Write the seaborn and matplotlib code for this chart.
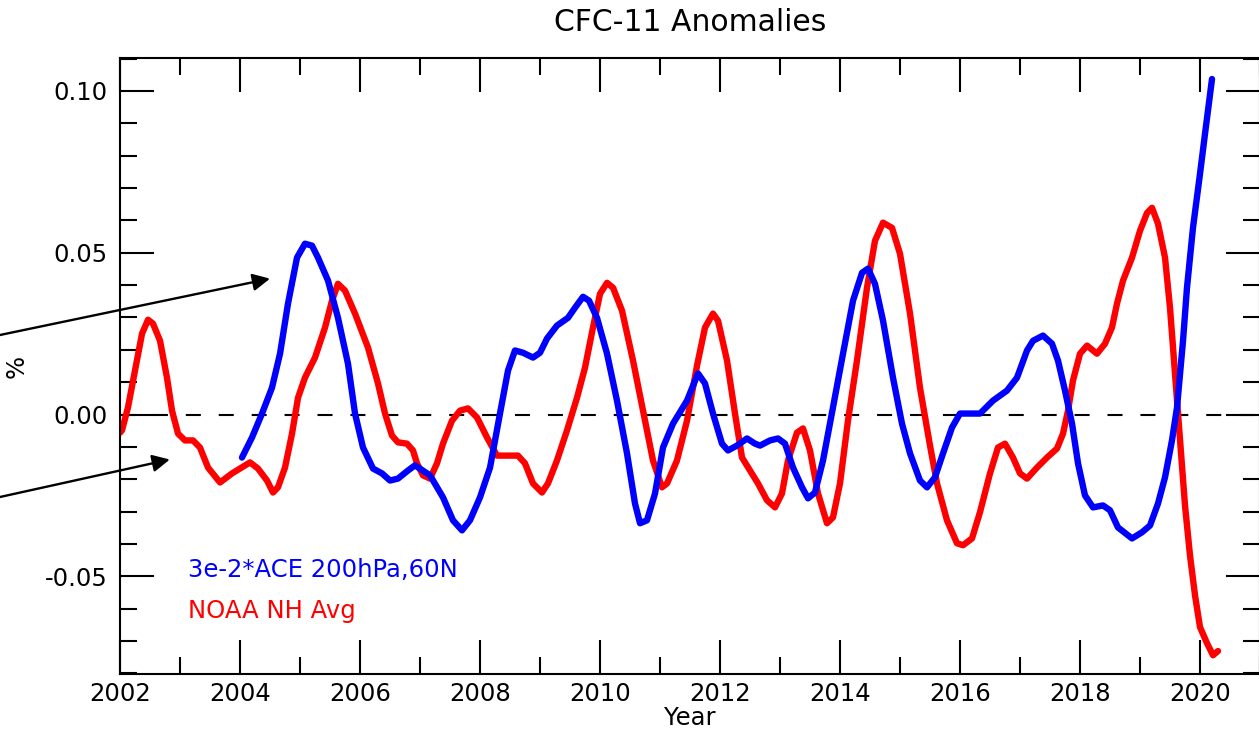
import numpy as np
import pandas as pd
import matplotlib
matplotlib.use("Agg")
import matplotlib.pyplot as plt
from matplotlib.ticker import MultipleLocator
import seaborn as sns

# NOAA Northern Hemisphere average CFC-11 anomaly (%)
noaa_year = [2002.000, 2002.033, 2002.133, 2002.250, 2002.367, 2002.467, 2002.550, 2002.667,
             2002.783, 2002.867, 2002.967, 2003.083, 2003.217, 2003.333, 2003.467, 2003.667,
             2003.867, 2004.000, 2004.167, 2004.300, 2004.450, 2004.550, 2004.633, 2004.750,
             2004.867, 2004.967, 2005.083, 2005.250, 2005.417, 2005.533, 2005.633, 2005.750,
             2005.917, 2006.133, 2006.300, 2006.417, 2006.533, 2006.633, 2006.783, 2006.883,
             2006.950, 2007.050, 2007.167, 2007.283, 2007.383, 2007.533, 2007.667, 2007.800,
             2007.950, 2008.117, 2008.283, 2008.450, 2008.633, 2008.750, 2008.883, 2009.033,
             2009.133, 2009.283, 2009.450, 2009.617, 2009.750, 2009.883, 2010.000, 2010.117,
             2010.217, 2010.367, 2010.550, 2010.717, 2010.883, 2011.033, 2011.117, 2011.283,
             2011.450, 2011.617, 2011.750, 2011.883, 2011.967, 2012.117, 2012.250, 2012.367,
             2012.500, 2012.633, 2012.783, 2012.917, 2013.033, 2013.133, 2013.283, 2013.383,
             2013.500, 2013.633, 2013.783, 2013.883, 2014.000, 2014.133, 2014.283, 2014.450,
             2014.583, 2014.717, 2014.867, 2015.000, 2015.167, 2015.333, 2015.500, 2015.617,
             2015.783, 2015.950, 2016.050, 2016.200, 2016.333, 2016.500, 2016.633, 2016.750,
             2016.883, 2017.000, 2017.117, 2017.283, 2017.450, 2017.617, 2017.717, 2017.800,
             2017.883, 2018.000, 2018.117, 2018.283, 2018.417, 2018.533, 2018.617, 2018.717,
             2018.867, 2019.000, 2019.117, 2019.200, 2019.300, 2019.417, 2019.500, 2019.583,
             2019.667, 2019.750, 2019.833, 2019.917, 2020.000, 2020.117, 2020.217, 2020.300]
noaa_anom = [-0.0056, -0.0049, 0.0022, 0.0136, 0.0250, 0.0293, 0.0281, 0.0228,
             0.0114, 0.0012, -0.0059, -0.0080, -0.0080, -0.0102, -0.0164, -0.0210,
             -0.0182, -0.0167, -0.0148, -0.0167, -0.0204, -0.0241, -0.0225, -0.0164,
             -0.0059, 0.0052, 0.0114, 0.0176, 0.0269, 0.0352, 0.0404, 0.0383,
             0.0312, 0.0207, 0.0096, 0.0003, -0.0065, -0.0086, -0.0090, -0.0111,
             -0.0151, -0.0188, -0.0198, -0.0151, -0.0090, -0.0019, 0.0012, 0.0019,
             -0.0009, -0.0071, -0.0127, -0.0127, -0.0127, -0.0151, -0.0213, -0.0241,
             -0.0213, -0.0142, -0.0049, 0.0052, 0.0145, 0.0269, 0.0373, 0.0407,
             0.0392, 0.0321, 0.0167, 0.0012, -0.0142, -0.0225, -0.0213, -0.0142,
             -0.0019, 0.0151, 0.0269, 0.0312, 0.0290, 0.0167, 0.0003, -0.0133,
             -0.0173, -0.0213, -0.0265, -0.0287, -0.0244, -0.0142, -0.0056, -0.0043,
             -0.0111, -0.0244, -0.0336, -0.0318, -0.0213, -0.0019, 0.0167, 0.0392,
             0.0537, 0.0593, 0.0577, 0.0497, 0.0312, 0.0083, -0.0096, -0.0213,
             -0.0327, -0.0398, -0.0404, -0.0383, -0.0302, -0.0182, -0.0102, -0.0090,
             -0.0133, -0.0182, -0.0198, -0.0164, -0.0133, -0.0105, -0.0059, 0.0012,
             0.0105, 0.0188, 0.0213, 0.0188, 0.0219, 0.0269, 0.0343, 0.0414,
             0.0485, 0.0568, 0.0623, 0.0639, 0.0590, 0.0485, 0.0330, 0.0127,
             -0.0080, -0.0281, -0.0435, -0.0559, -0.0657, -0.0707, -0.0744, -0.0731]

# ACE 200 hPa, 60N anomaly scaled by 3e-2
ace_year = [2004.033, 2004.200, 2004.367, 2004.533, 2004.667, 2004.800, 2004.950, 2005.083,
            2005.200, 2005.300, 2005.467, 2005.633, 2005.800, 2005.917, 2006.050, 2006.217,
            2006.367, 2006.500, 2006.633, 2006.800, 2006.917, 2007.167, 2007.383, 2007.550,
            2007.700, 2007.833, 2008.000, 2008.167, 2008.333, 2008.467, 2008.583, 2008.717,
            2008.883, 2009.000, 2009.117, 2009.283, 2009.467, 2009.583, 2009.717, 2009.817,
            2009.950, 2010.117, 2010.283, 2010.450, 2010.583, 2010.667, 2010.783, 2010.917,
            2011.050, 2011.217, 2011.450, 2011.633, 2011.750, 2011.883, 2012.033, 2012.133,
            2012.283, 2012.450, 2012.583, 2012.667, 2012.833, 2012.967, 2013.083, 2013.217,
            2013.367, 2013.467, 2013.583, 2013.717, 2013.883, 2014.050, 2014.217, 2014.367,
            2014.467, 2014.583, 2014.717, 2014.883, 2015.033, 2015.167, 2015.333, 2015.450,
            2015.583, 2015.717, 2015.867, 2016.000, 2016.167, 2016.333, 2016.550, 2016.783,
            2016.950, 2017.117, 2017.217, 2017.383, 2017.533, 2017.633, 2017.750, 2017.867,
            2017.967, 2018.083, 2018.217, 2018.383, 2018.500, 2018.633, 2018.867, 2019.033,
            2019.167, 2019.300, 2019.417, 2019.533, 2019.617, 2019.717, 2019.783, 2019.883,
            2020.000, 2020.083, 2020.200]
ace_anom = [-0.0133, -0.0071, 0.0003, 0.0083, 0.0188, 0.0343, 0.0485, 0.0528,
            0.0522, 0.0485, 0.0414, 0.0299, 0.0157, 0.0003, -0.0102, -0.0167,
            -0.0182, -0.0204, -0.0198, -0.0173, -0.0157, -0.0188, -0.0256, -0.0327,
            -0.0358, -0.0327, -0.0256, -0.0164, 0.0003, 0.0136, 0.0198, 0.0191,
            0.0176, 0.0191, 0.0235, 0.0275, 0.0299, 0.0330, 0.0364, 0.0352,
            0.0299, 0.0188, 0.0043, -0.0120, -0.0275, -0.0336, -0.0327, -0.0244,
            -0.0102, -0.0028, 0.0043, 0.0127, 0.0096, 0.0003, -0.0090, -0.0111,
            -0.0096, -0.0074, -0.0090, -0.0096, -0.0080, -0.0074, -0.0090, -0.0164,
            -0.0225, -0.0259, -0.0241, -0.0142, 0.0022, 0.0188, 0.0352, 0.0438,
            0.0451, 0.0404, 0.0290, 0.0114, -0.0028, -0.0120, -0.0204, -0.0225,
            -0.0194, -0.0120, -0.0040, 0.0003, 0.0003, 0.0003, 0.0043, 0.0074,
            0.0114, 0.0198, 0.0228, 0.0244, 0.0219, 0.0167, 0.0074, -0.0028,
            -0.0151, -0.0250, -0.0287, -0.0281, -0.0296, -0.0349, -0.0383, -0.0364,
            -0.0343, -0.0275, -0.0194, -0.0080, 0.0022, 0.0228, 0.0392, 0.0577,
            0.0744, 0.0867, 0.1037]

series_labels = ["3e-2*ACE 200hPa,60N", "NOAA NH Avg"]
x_ticks = list(range(2002, 2021, 2))
y_ticks = [-0.05, 0.00, 0.05, 0.10]

sns.set_style("white")
plt.rcParams["font.family"] = ["DejaVu Sans"]
plt.rcParams["axes.unicode_minus"] = False
plt.rcParams["text.color"] = "black"
plt.rcParams["axes.labelcolor"] = "black"
plt.rcParams["xtick.color"] = "black"
plt.rcParams["ytick.color"] = "black"

W, H = 1259, 730
fig = plt.figure(figsize=(W / 100, H / 100), dpi=100)
ax = fig.add_axes([120 / W, 56 / H, 1140 / W, 616 / H])

noaa = pd.DataFrame({"year": noaa_year, "anom": noaa_anom})
ace = pd.DataFrame({"year": ace_year, "anom": ace_anom})

ax.axhline(0.0, color="black", lw=1.5, dashes=(7.2, 8.6), zorder=1)
sns.lineplot(data=noaa, x="year", y="anom", color="#ff0000", lw=4.6, ax=ax, sort=False, zorder=2)
sns.lineplot(data=ace, x="year", y="anom", color="#0000ff", lw=4.6, ax=ax, sort=False, zorder=3)

ax.set_xlim(2002, 2021)
ax.set_ylim(-0.0802, 0.1102)
ax.set_xticks(x_ticks)
ax.set_xticklabels([str(v) for v in x_ticks])
ax.set_yticks(y_ticks)
ax.set_yticklabels([f"{v:.2f}" for v in y_ticks])
ax.xaxis.set_minor_locator(MultipleLocator(1))
ax.yaxis.set_minor_locator(MultipleLocator(0.01))
ax.tick_params(which="both", direction="in", top=True, right=True, left=True, bottom=True,
               width=1.5, color="black", labelcolor="black")
ax.tick_params(which="major", length=24.5, labelsize=17.5)
ax.tick_params(which="minor", length=12.2)
ax.tick_params(axis="x", which="major", pad=6)
ax.tick_params(axis="y", which="major", pad=9)
for s in ax.spines.values():
    s.set_linewidth(1.5)
    s.set_color("black")

ax.set_xlabel("Year", fontsize=17.5, va="center", color="black")
ax.xaxis.set_label_coords(0.5, -0.0714)
ax.set_ylabel("%", fontsize=17.5, va="center", color="black")
ax.yaxis.set_label_coords(-0.0904, 0.50)
ax.text(0.5, 1.0584, "CFC-11 Anomalies", transform=ax.transAxes,
        ha="center", va="center", fontsize=21.5, color="black")

ax.text((188 - 120) / 1140, (674 - 570) / 616, series_labels[0], transform=ax.transAxes,
        color="#0000ff", fontsize=17.5, ha="left", va="center")
ax.text((188 - 120) / 1140, (674 - 611) / 616, series_labels[1], transform=ax.transAxes,
        color="#ff0000", fontsize=17.5, ha="left", va="center")

# arrows coming in from the left margin
arrow_kw = dict(arrowstyle="-|>", color="black", lw=1.7, mutation_scale=26,
                shrinkA=0, shrinkB=0)
ax.annotate("", xy=(2004.5, 0.0420), xycoords="data",
            xytext=(0.0, 1 - 335 / H), textcoords="figure fraction",
            arrowprops=arrow_kw, annotation_clip=False)
ax.annotate("", xy=(2002.83, -0.0139), xycoords="data",
            xytext=(0.0, 1 - 497 / H), textcoords="figure fraction",
            arrowprops=arrow_kw, annotation_clip=False)

fig.savefig("out.png", dpi=100)
